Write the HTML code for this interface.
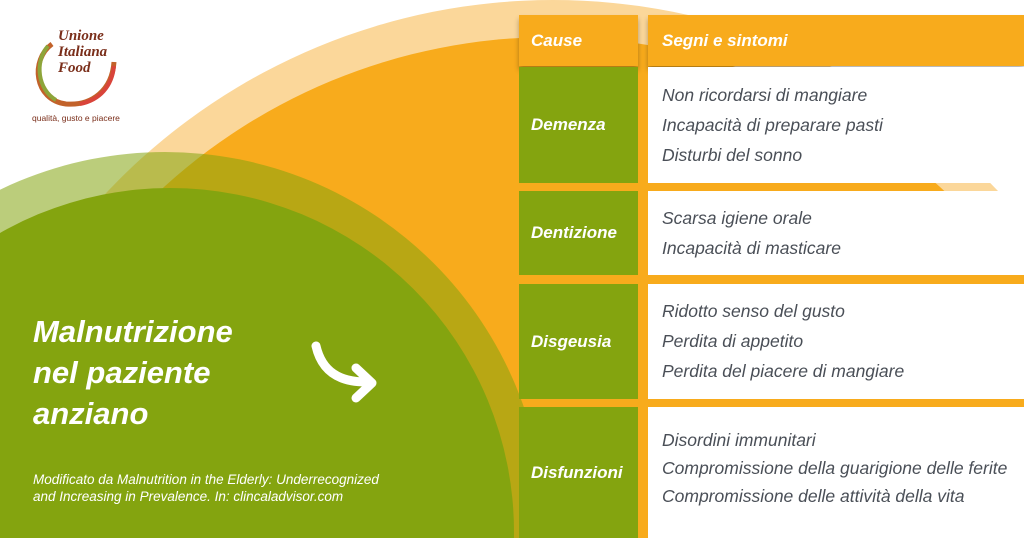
<!DOCTYPE html>
<html><head><meta charset="utf-8"><style>
*{margin:0;padding:0;box-sizing:border-box}
html,body{width:1024px;height:538px;overflow:hidden}
body{position:relative;background:#fff;font-family:"Liberation Sans",sans-serif}
svg.bg{position:absolute;left:0;top:0}
.c{position:absolute;background:#84a40f;color:#fff;font-style:italic;font-weight:bold;font-size:17px;display:flex;align-items:center;padding-left:12px;left:519px;width:119px;overflow:hidden}
.s{position:absolute;background:#fff;left:648px;width:376px;color:#4a4f57;font-style:italic;font-size:17.5px;padding-left:14px;overflow:hidden}
.s div{height:30px;line-height:30px;white-space:nowrap}
.hd{position:absolute;background:#f8ab1c;color:#fff;font-style:italic;font-weight:bold;font-size:17px;top:15px;height:51px;line-height:51px;box-shadow:0 4px 5px rgba(0,0,0,0.3)}
.t{position:absolute;color:#fff;font-style:italic;font-weight:bold;font-size:31px;left:33px;line-height:41px}
.ref{position:absolute;left:33px;top:471px;color:#fff;font-style:italic;font-size:13.5px;line-height:17px;white-space:nowrap}
</style></head><body>
<svg class="bg" width="1024" height="538" viewBox="0 0 1024 538">
<circle cx="553" cy="614" r="614" fill="#fbd79a"/>
<circle cx="552" cy="614" r="577" fill="#f8ab1c"/>
<rect x="640" y="270" width="384" height="20" fill="#f8ab1c"/>
<circle cx="165" cy="532" r="380" fill="#84a40f" opacity="0.55"/>
<circle cx="170" cy="532" r="344" fill="#84a40f"/>
<path d="M316 346 C322 372 340 382 366 382" stroke="#fff" stroke-width="9" fill="none" stroke-linecap="round"/>
<path d="M356 368 L372 383 L356 398" stroke="#fff" stroke-width="9" fill="none" stroke-linecap="round" stroke-linejoin="round"/>
<path d="M52 44 C30 60 34 100 66 104 C92 106 112 90 114 62" stroke="#c2622a" stroke-width="5" fill="none"/>
<path d="M48 46 C34 62 38 90 56 100" stroke="#8da53a" stroke-width="4" fill="none"/>
<path d="M80 104 C100 100 112 86 114 66" stroke="#d9443a" stroke-width="4" fill="none"/>
</svg>
<div style="position:absolute;left:58px;top:28px;color:#7a2e1a;font-style:italic;font-weight:bold;font-size:15px;line-height:16px;font-family:'Liberation Serif',serif">Unione<br>Italiana<br>Food</div>
<div style="position:absolute;left:32px;top:113px;color:#7a2e1a;font-size:8.5px">qualità, gusto e piacere</div>

<div class="hd" style="left:519px;width:119px;padding-left:12px">Cause</div>
<div class="hd" style="left:648px;width:376px;padding-left:14px">Segni e sintomi</div>

<div class="c" style="top:67px;height:116px">Demenza</div>
<div class="s" style="top:67px;height:116px;padding-top:13px"><div>Non ricordarsi di mangiare</div><div>Incapacità di preparare pasti</div><div>Disturbi del sonno</div></div>

<div class="c" style="top:191px;height:84px">Dentizione</div>
<div class="s" style="top:191px;height:84px;padding-top:12px"><div>Scarsa igiene orale</div><div>Incapacità di masticare</div></div>

<div class="c" style="top:284px;height:115px">Disgeusia</div>
<div class="s" style="top:284px;height:115px;padding-top:12px"><div>Ridotto senso del gusto</div><div>Perdita di appetito</div><div>Perdita del piacere di mangiare</div></div>

<div class="c" style="top:407px;height:131px">Disfunzioni</div>
<div class="s" style="top:407px;height:131px;padding-top:19px"><div style="height:28px;line-height:28px">Disordini immunitari</div><div style="height:28px;line-height:28px">Compromissione della guarigione delle ferite</div><div style="height:28px;line-height:28px">Compromissione delle attività della vita</div></div>

<div class="t" style="top:311px">Malnutrizione<br>nel paziente<br>anziano</div>
<div class="ref">Modificato da Malnutrition in the Elderly: Underrecognized<br>and Increasing in Prevalence. In: clincaladvisor.com</div>
</body></html>
